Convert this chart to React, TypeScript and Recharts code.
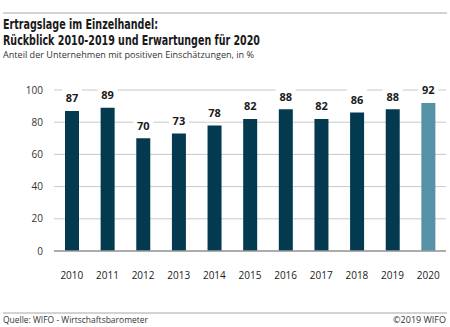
import React from 'react';
import { BarChart, Bar, XAxis, YAxis, CartesianGrid, LabelList, Cell } from 'recharts';

const years = ['2010', '2011', '2012', '2013', '2014', '2015', '2016', '2017', '2018', '2019', '2020'];
const values = [87, 89, 70, 73, 78, 82, 88, 82, 86, 88, 92];
const yTicks = [0, 20, 40, 60, 80, 100];
const titleLine1 = 'Ertragslage im Einzelhandel:';
const titleLine2 = 'Rückblick 2010-2019 und Erwartungen für 2020';
const subtitle = 'Anteil der Unternehmen mit positiven Einschätzungen, in %';
const source = 'Quelle: WIFO - Wirtschaftsbarometer';
const copyright = '©2019 WIFO';

const data = years.map((y, i) => ({ year: y, value: values[i] }));

const DARK = '#033a4f';
const LIGHT = '#5592a8';
const FONT = "'Open Sans', sans-serif";
const TITLE_FONT = "'Liberation Sans Narrow', 'DejaVu Sans Condensed', 'Open Sans', sans-serif";

const ValueLabel = (props: any) => {
  const { x, y, width, value } = props;
  const cx = x + width / 2;
  return (
    <g>
      <rect x={cx - 10} y={y - 24} width={20} height={20} fill="#fff" />
      <text x={cx} y={y - 13} textAnchor="middle" dominantBaseline="central" fontFamily={FONT} fontWeight={700} fontSize={11} fill="#1a1a1a">
        {value}
      </text>
    </g>
  );
};

export default function App() {
  return (
    <div style={{ position: 'absolute', left: 0, top: 0, width: 450, height: 327, background: '#fff', overflow: 'hidden' }}>
      <svg width={450} height={327} style={{ position: 'absolute', left: 0, top: 0 }}>
        <line x1={3} x2={447} y1={13} y2={13} stroke="#a6a6a6" strokeWidth={1} />
        <text x={3} y={29} fontFamily={TITLE_FONT} fontWeight={700} fontSize={13.5} fill="#1a1a1a" textLength={155} lengthAdjust="spacingAndGlyphs">{titleLine1}</text>
        <text x={3} y={45} fontFamily={TITLE_FONT} fontWeight={700} fontSize={13.5} fill="#1a1a1a" textLength={257} lengthAdjust="spacingAndGlyphs">{titleLine2}</text>
        <text x={3} y={58} fontFamily={FONT} fontSize={9.5} fill="#333" textLength={251} lengthAdjust="spacingAndGlyphs">{subtitle}</text>
        <line x1={3} x2={447} y1={313} y2={313} stroke="#a6a6a6" strokeWidth={1} />
        <text x={3} y={323} fontFamily={FONT} fontSize={9} fill="#333" textLength={145} lengthAdjust="spacingAndGlyphs">{source}</text>
        <text x={446} y={323} textAnchor="end" fontFamily={FONT} fontSize={9} fill="#333">{copyright}</text>
      </svg>
      <div style={{ position: 'absolute', left: 0, top: 0 }}>
        <BarChart width={450} height={327} data={data} margin={{ top: 90, right: 4, bottom: 46, left: 10 }}>
          <CartesianGrid vertical={false} stroke="#c8c8c8" strokeWidth={1} />
          <XAxis
            dataKey="year"
            height={30}
            axisLine={{ stroke: '#9a9a9a', strokeWidth: 1.5 }}
            tickLine={false}
            tickSize={0}
            tickMargin={21}
            tick={{ fontFamily: FONT, fontSize: 10, fill: '#1a1a1a' }}
            interval={0}
          />
          <YAxis
            width={44}
            domain={[0, 100]}
            ticks={yTicks}
            axisLine={false}
            tickLine={false}
            tickSize={0}
            tickMargin={11}
            tick={{ fontFamily: FONT, fontSize: 10, fill: '#333' }}
          />
          <Bar dataKey="value" barSize={14} isAnimationActive={false}>
            {data.map((d, i) => (
              <Cell key={d.year} fill={i === data.length - 1 ? LIGHT : DARK} />
            ))}
            <LabelList dataKey="value" content={<ValueLabel />} />
          </Bar>
        </BarChart>
      </div>
    </div>
  );
}
